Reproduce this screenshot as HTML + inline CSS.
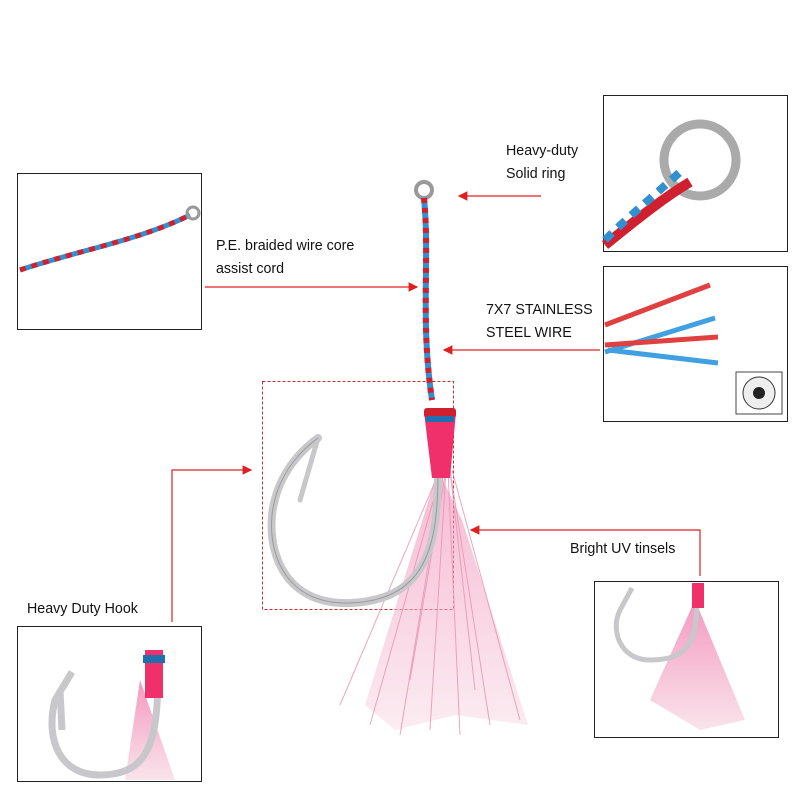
<!DOCTYPE html>
<html><head><meta charset="utf-8"><style>
body{margin:0;background:#fff;width:800px;height:800px;overflow:hidden;font-family:"Liberation Sans",sans-serif}
.t{position:absolute;font-size:15px;color:#111;line-height:23px;transform:scaleX(0.95);transform-origin:left top}
</style></head><body>
<svg width="800" height="800" style="position:absolute;left:0;top:0" xmlns="http://www.w3.org/2000/svg">
<defs>
<marker id="a" markerWidth="8" markerHeight="8" refX="7" refY="4" orient="auto"><path d="M0,0 L8,4 L0,8 Z" fill="#e02020"/></marker>
<linearGradient id="tg" x1="0" y1="0" x2="0" y2="1"><stop offset="0" stop-color="#f080b0"/><stop offset="1" stop-color="#f8dde6"/></linearGradient>
</defs>
<g fill="none" stroke="#222" stroke-width="1">
<rect x="17.5" y="173.5" width="184" height="156"/>
<rect x="603.5" y="95.5" width="184" height="156"/>
<rect x="603.5" y="266.5" width="184" height="155"/>
<rect x="17.5" y="626.5" width="184" height="155"/>
<rect x="594.5" y="581.5" width="184" height="156"/>
</g>
<rect x="262.5" y="381.5" width="191" height="228" fill="none" stroke="#c03030" stroke-dasharray="3,2"/>
<g stroke="#e02020" stroke-width="1.2" fill="none">
<line x1="541" y1="196" x2="459" y2="196" marker-end="url(#a)"/>
<line x1="205" y1="287" x2="417" y2="287" marker-end="url(#a)"/>
<line x1="600" y1="350" x2="444" y2="350" marker-end="url(#a)"/>
<polyline points="172,622 172,470 251,470" marker-end="url(#a)"/>
<polyline points="700,576 700,530 471,530" marker-end="url(#a)"/>
</g>
<!-- main hook -->
<circle cx="424" cy="190" r="8" fill="none" stroke="#999" stroke-width="4"/>
<path d="M424,198 C430,260 420,320 432,400" stroke="#3090d0" stroke-width="6" fill="none"/>
<path d="M424,198 C430,260 420,320 432,400" stroke="#d02030" stroke-width="6" fill="none" stroke-dasharray="5,5"/>
<path d="M438,470 L365,705 L395,730 L455,715 L528,725 L462,520 Z" fill="url(#tg)" opacity="0.55"/>
<g stroke="#e890b0" stroke-width="1" opacity="0.8">
<line x1="440" y1="470" x2="340" y2="705"/><line x1="442" y1="470" x2="370" y2="725"/><line x1="444" y1="470" x2="400" y2="735"/>
<line x1="446" y1="470" x2="430" y2="730"/><line x1="448" y1="470" x2="460" y2="735"/><line x1="450" y1="470" x2="490" y2="725"/>
<line x1="452" y1="470" x2="520" y2="720"/><line x1="446" y1="470" x2="410" y2="680"/><line x1="450" y1="470" x2="475" y2="690"/>
</g>
<path d="M438,470 C438,540 430,600 350,603 C290,605 268,560 272,515 C276,480 295,455 318,438" stroke="#c8c8cc" stroke-width="8" fill="none" stroke-linecap="round"/>
<path d="M318,438 L300,500" stroke="#c8c8cc" stroke-width="5" stroke-linecap="round"/>
<path d="M438,470 C438,540 430,600 350,603 C290,605 268,560 272,515 C276,480 295,455 318,438" stroke="#999" stroke-width="1" fill="none"/>
<path d="M424,412 L456,412 L450,478 L432,478 Z" fill="#f0306a"/>
<rect x="424" y="408" width="32" height="10" rx="3" fill="#d02030"/>
<rect x="426" y="416" width="28" height="6" fill="#2070b0"/>
<!-- top-left inset cord -->
<path d="M20,270 C80,250 140,240 190,215" stroke="#3090d0" stroke-width="5" fill="none"/>
<path d="M20,270 C80,250 140,240 190,215" stroke="#d02030" stroke-width="5" fill="none" stroke-dasharray="6,6"/>
<circle cx="193" cy="213" r="6" fill="none" stroke="#999" stroke-width="3"/>
<!-- ring inset -->
<circle cx="700" cy="160" r="36" fill="none" stroke="#aaa" stroke-width="9"/>
<path d="M605,245 C630,225 660,200 690,182" stroke="#d02030" stroke-width="10" fill="none"/>
<path d="M605,240 C630,215 655,195 680,172" stroke="#3090d0" stroke-width="8" fill="none" stroke-dasharray="10,8"/>
<!-- wire inset -->
<g stroke-width="5">
<line x1="605" y1="325" x2="710" y2="285" stroke="#e04040"/>
<line x1="605" y1="352" x2="715" y2="318" stroke="#40a0e0"/>
<line x1="605" y1="345" x2="718" y2="337" stroke="#e04040"/>
<line x1="608" y1="350" x2="718" y2="363" stroke="#40a0e0"/>
</g>
<rect x="736" y="372" width="46" height="42" fill="#fff" stroke="#444"/>
<circle cx="759" cy="393" r="16" fill="#eee" stroke="#333"/>
<circle cx="759" cy="393" r="6" fill="#222"/>
<!-- bottom-left inset -->
<path d="M140,680 L175,780 L125,780 Z" fill="url(#tg)" opacity="0.8"/>
<path d="M62,730 L60,690 M158,670 C158,740 150,775 100,775 C60,775 45,740 55,700 L72,672" stroke="#c8c8cc" stroke-width="7" fill="none"/>
<rect x="145" y="650" width="18" height="48" fill="#f0306a"/>
<rect x="143" y="655" width="22" height="8" fill="#2070b0"/>
<!-- bottom-right inset -->
<path d="M695,600 L650,700 L700,730 L745,720 Z" fill="url(#tg)" opacity="0.8"/>
<path d="M697,598 C697,640 690,660 650,660 C620,660 610,630 620,610 L632,588" stroke="#c8c8cc" stroke-width="5" fill="none"/>
<rect x="692" y="583" width="12" height="25" fill="#f0306a"/>
</svg>
<div class="t" style="left:506px;top:139px">Heavy-duty<br>Solid ring</div>
<div class="t" style="left:216px;top:234px">P.E. braided wire core<br>assist cord</div>
<div class="t" style="left:486px;top:298px">7X7 STAINLESS<br>STEEL WIRE</div>
<div class="t" style="left:570px;top:537px">Bright UV tinsels</div>
<div class="t" style="left:27px;top:597px">Heavy Duty Hook</div>
</body></html>
